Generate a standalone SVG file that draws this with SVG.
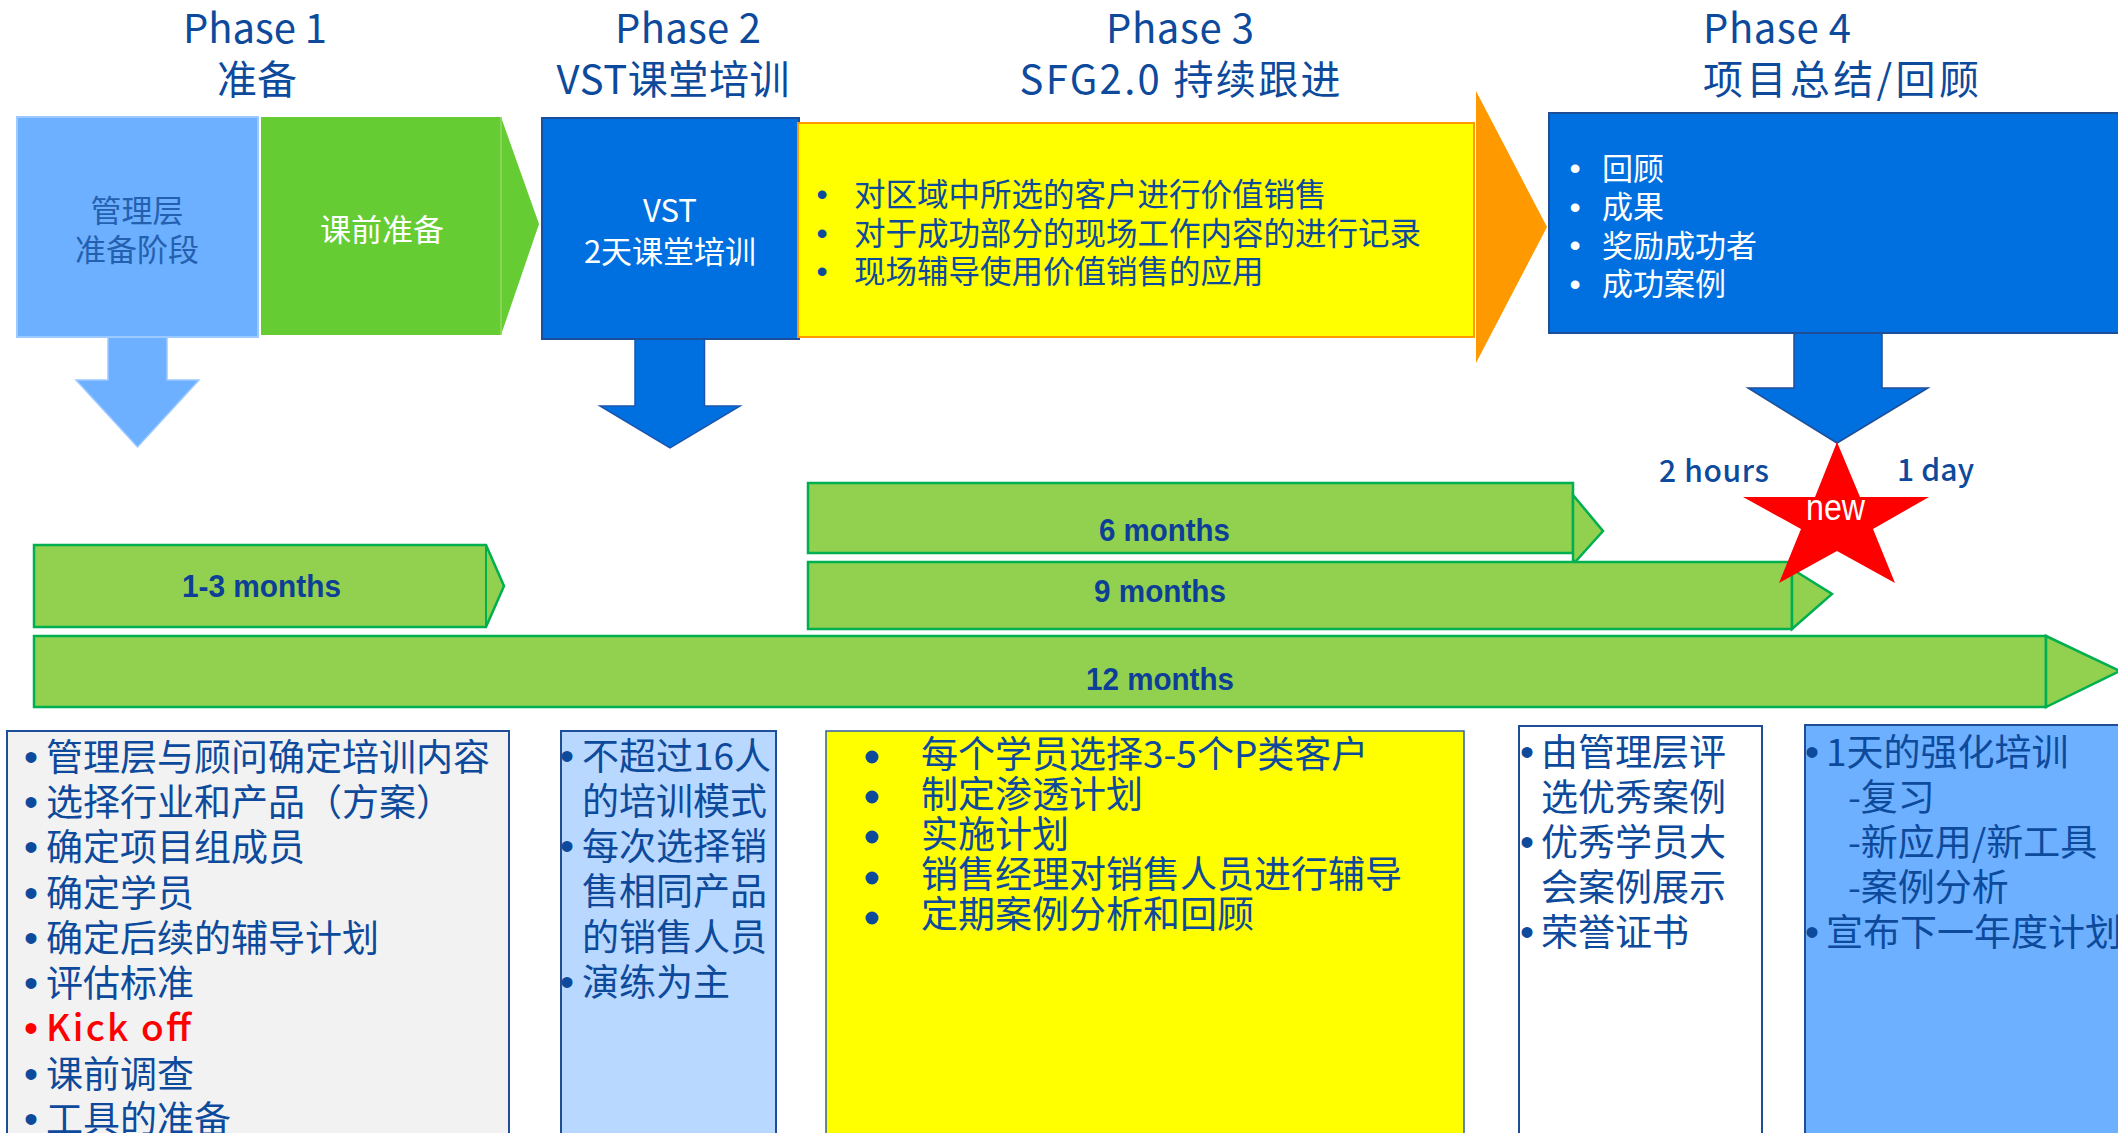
<svg xmlns="http://www.w3.org/2000/svg" width="2118" height="1133" viewBox="0 0 2118 1133">
<style>
.cn{font-family:"Noto Sans CJK SC","Noto Sans",sans-serif}
.title{font-size:40px;fill:#0D4A9C}
.dk{fill:#0D4A9C}
.wh{fill:#FFFFFF}
.f31{font-size:31px}
.f37{font-size:37px}
.dur{font-family:"Liberation Sans",Arial,sans-serif;font-size:32px;font-weight:bold;fill:#0D3F96}
.bul{font-family:"Liberation Sans",Arial,sans-serif;text-anchor:middle}
.bar{fill:#92D050;stroke:#00B050;stroke-width:2.5}
.box{stroke:#1F4E99;stroke-width:2}
.dot{fill:#0D4A9C}
</style>

<g id="titles">
  <text class="cn title" x="255" y="43" text-anchor="middle" textLength="144" lengthAdjust="spacing">Phase 1</text>
  <text class="cn title" x="257" y="94" text-anchor="middle">准备</text>
  <text class="cn title" x="688" y="43" text-anchor="middle" textLength="146" lengthAdjust="spacing">Phase 2</text>
  <text class="cn title" x="673" y="94" text-anchor="middle" textLength="233" lengthAdjust="spacing">VST课堂培训</text>
  <text class="cn title" x="1180" y="43" text-anchor="middle" textLength="148" lengthAdjust="spacing">Phase 3</text>
  <text class="cn title" x="1180" y="94" text-anchor="middle" textLength="321" lengthAdjust="spacing">SFG2.0 持续跟进</text>
  <text class="cn title" x="1703" y="43" textLength="148" lengthAdjust="spacing">Phase 4</text>
  <text class="cn title" x="1703" y="94" textLength="276" lengthAdjust="spacing">项目总结/回顾</text>
</g>

<g id="connectors">
  <polygon points="108,337 167,337 167,380 199,380 137.5,447 76,380 108,380" fill="#6DB0FF" stroke="#9CC9FF" stroke-width="1.5"/>
  <polygon points="635,338 704.5,338 704.5,406 740,406 670,448 600,406 635,406" fill="#0070E0" stroke="#1A56B0" stroke-width="1.5"/>
  <polygon points="1794,332 1882,332 1882,388 1928,388 1837,443 1748,388 1794,388" fill="#0070E0" stroke="#1F4E99" stroke-width="1.5"/>
  <polygon points="1476,91 1547,227 1476,363" fill="#FF9900"/>
</g>

<g id="phase1-mgmt">
  <rect x="17" y="117" width="241" height="220" fill="#6DB0FF" stroke="#9CC9FF" stroke-width="2"/>
  <text class="cn f31" x="137" y="222" text-anchor="middle" fill="#2460B0">管理层</text>
  <text class="cn f31" x="137" y="261" text-anchor="middle" fill="#2460B0">准备阶段</text>
</g>

<g id="phase1-prep">
  <polygon points="261,117 501,117 539,224 501,335 261,335" fill="#66CC33"/>
  <line x1="501" y1="117" x2="501" y2="335" stroke="#8FDC5F" stroke-width="1.5"/>
  <text class="cn f31 wh" x="382" y="241" text-anchor="middle">课前准备</text>
</g>

<g id="phase2-vst">
  <rect x="542" y="118" width="257" height="221" fill="#0070E0" stroke="#1A4F9E" stroke-width="2"/>
  <text class="cn f31 wh" x="670" y="222" text-anchor="middle">VST</text>
  <text class="cn f31 wh" x="670" y="263" text-anchor="middle">2天课堂培训</text>
</g>

<g id="phase3-sfg">
  <rect x="798" y="123" width="676" height="214" fill="#FFFF00" stroke="#FF9900" stroke-width="2"/>
  <text class="bul dk" x="822" y="205" font-size="32">•</text>
  <text class="bul dk" x="822" y="244" font-size="32">•</text>
  <text class="bul dk" x="822" y="282" font-size="32">•</text>
  <text class="cn dk" x="854" y="206" font-size="31.5">对区域中所选的客户进行价值销售</text>
  <text class="cn dk" x="854" y="245" font-size="31.5">对于成功部分的现场工作内容的进行记录</text>
  <text class="cn dk" x="854" y="283" font-size="31.5">现场辅导使用价值销售的应用</text>
</g>

<g id="phase4-review">
  <rect x="1549" y="113" width="600" height="220" fill="#0070E0" stroke="#1F4E99" stroke-width="2"/>
  <text class="bul wh" x="1575" y="179" font-size="32">•</text>
  <text class="bul wh" x="1575" y="218" font-size="32">•</text>
  <text class="bul wh" x="1575" y="256" font-size="32">•</text>
  <text class="bul wh" x="1575" y="295" font-size="32">•</text>
  <text class="cn f31 wh" x="1602" y="180">回顾</text>
  <text class="cn f31 wh" x="1602" y="218">成果</text>
  <text class="cn f31 wh" x="1602" y="257">奖励成功者</text>
  <text class="cn f31 wh" x="1602" y="295">成功案例</text>
</g>

<g id="bar-1-3">
  <polygon class="bar" points="34,545 486,545 504,586 486,627 34,627"/>
  <line x1="486" y1="545" x2="486" y2="627" stroke="#00B050" stroke-width="2"/>
  <text class="dur" x="182" y="597" textLength="159" lengthAdjust="spacingAndGlyphs">1-3 months</text>
</g>

<g id="bar-12">
  <rect class="bar" x="34" y="636" width="2012" height="71"/>
  <polygon class="bar" points="2046,636 2120,671 2046,707"/>
  <text class="dur" x="1086" y="690" textLength="148" lengthAdjust="spacingAndGlyphs">12 months</text>
</g>

<g id="bar-9">
  <rect class="bar" x="808" y="562" width="984" height="67"/>
  <polygon class="bar" points="1792,569 1832,594 1792,629"/>
  <text class="dur" x="1094" y="602" textLength="132" lengthAdjust="spacingAndGlyphs">9 months</text>
</g>

<g id="bar-6">
  <rect class="bar" x="808" y="483" width="765" height="70"/>
  <polygon class="bar" points="1573,495 1603,531 1576,561 1573,561"/>
  <text class="dur" x="1099" y="541" textLength="131" lengthAdjust="spacingAndGlyphs">6 months</text>
</g>

<g id="labels-time">
  <text class="cn dk" x="1659" y="482" font-size="30" font-weight="500" textLength="110" lengthAdjust="spacing">2 hours</text>
  <text class="cn dk" x="1897" y="481" font-size="30" font-weight="500" textLength="77" lengthAdjust="spacing">1 day</text>
</g>

<g id="new-star">
  <polygon points="1837,442 1860,497 1929,497 1873,529 1895,583 1837,551 1779,583 1801,529 1743,497 1815,497" fill="#FF0000"/>
  <text x="1806" y="520" font-family="Liberation Sans,Arial,sans-serif" font-size="37" fill="#FFFFFF" textLength="59" lengthAdjust="spacingAndGlyphs">new</text>
</g>

<g id="box-prep-list">
  <rect class="box" x="7" y="731" width="502" height="420" fill="#F2F2F2"/>
  <g class="bul dk" font-size="40">
    <text x="31" y="771">•</text>
    <text x="31" y="816">•</text>
    <text x="31" y="861">•</text>
    <text x="31" y="907">•</text>
    <text x="31" y="952">•</text>
    <text x="31" y="997">•</text>
    <text x="31" y="1042" fill="#FF0000">•</text>
    <text x="31" y="1088">•</text>
    <text x="31" y="1133">•</text>
  </g>
  <g class="cn f37 dk">
    <text x="46" y="771">管理层与顾问确定培训内容</text>
    <text x="46" y="816">选择行业和产品（方案）</text>
    <text x="46" y="861">确定项目组成员</text>
    <text x="46" y="907">确定学员</text>
    <text x="46" y="952">确定后续的辅导计划</text>
    <text x="46" y="997">评估标准</text>
    <text x="46" y="1041" fill="#FF0000" font-weight="500" textLength="145" lengthAdjust="spacing">Kick off</text>
    <text x="46" y="1088">课前调查</text>
    <text x="46" y="1133">工具的准备</text>
  </g>
</g>

<g id="box-vst-list">
  <rect class="box" x="561" y="731" width="215" height="420" fill="#B8D8FF"/>
  <g class="bul dk" font-size="40">
    <text x="567" y="770">•</text>
    <text x="567" y="860">•</text>
    <text x="567" y="996">•</text>
  </g>
  <g class="cn f37 dk">
    <text x="582" y="770">不超过16人</text>
    <text x="582" y="815">的培训模式</text>
    <text x="582" y="860">每次选择销</text>
    <text x="582" y="905">售相同产品</text>
    <text x="582" y="951">的销售人员</text>
    <text x="582" y="996">演练为主</text>
  </g>
</g>

<g id="box-sfg-list">
  <rect x="826" y="731" width="638" height="420" fill="#FFFF00" stroke="#2E5FA8" stroke-width="1.5"/>
  <circle class="dot" cx="872" cy="757" r="6.5"/>
  <circle class="dot" cx="872" cy="797" r="6.5"/>
  <circle class="dot" cx="872" cy="837" r="6.5"/>
  <circle class="dot" cx="872" cy="878" r="6.5"/>
  <circle class="dot" cx="872" cy="918" r="6.5"/>
  <g class="cn f37 dk">
    <text x="921" y="768">每个学员选择3-5个P类客户</text>
    <text x="921" y="808">制定渗透计划</text>
    <text x="921" y="848">实施计划</text>
    <text x="921" y="888">销售经理对销售人员进行辅导</text>
    <text x="921" y="928">定期案例分析和回顾</text>
  </g>
</g>

<g id="box-review-list">
  <rect class="box" x="1519" y="726" width="243" height="425" fill="#FFFFFF"/>
  <g class="bul dk" font-size="40">
    <text x="1527" y="766">•</text>
    <text x="1527" y="856">•</text>
    <text x="1527" y="946">•</text>
  </g>
  <g class="cn f37 dk">
    <text x="1541" y="766">由管理层评</text>
    <text x="1541" y="811">选优秀案例</text>
    <text x="1541" y="856">优秀学员大</text>
    <text x="1541" y="901">会案例展示</text>
    <text x="1541" y="946">荣誉证书</text>
  </g>
</g>

<g id="box-day-list">
  <rect class="box" x="1805" y="725" width="340" height="426" fill="#6DB0FF"/>
  <g class="bul dk" font-size="40">
    <text x="1812" y="766">•</text>
    <text x="1812" y="946">•</text>
  </g>
  <g class="cn f37 dk">
    <text x="1826" y="766">1天的强化培训</text>
    <text x="1848" y="811">-复习</text>
    <text x="1848" y="856">-新应用/新工具</text>
    <text x="1848" y="901">-案例分析</text>
    <text x="1826" y="946">宣布下一年度计划</text>
  </g>
</g>
</svg>
